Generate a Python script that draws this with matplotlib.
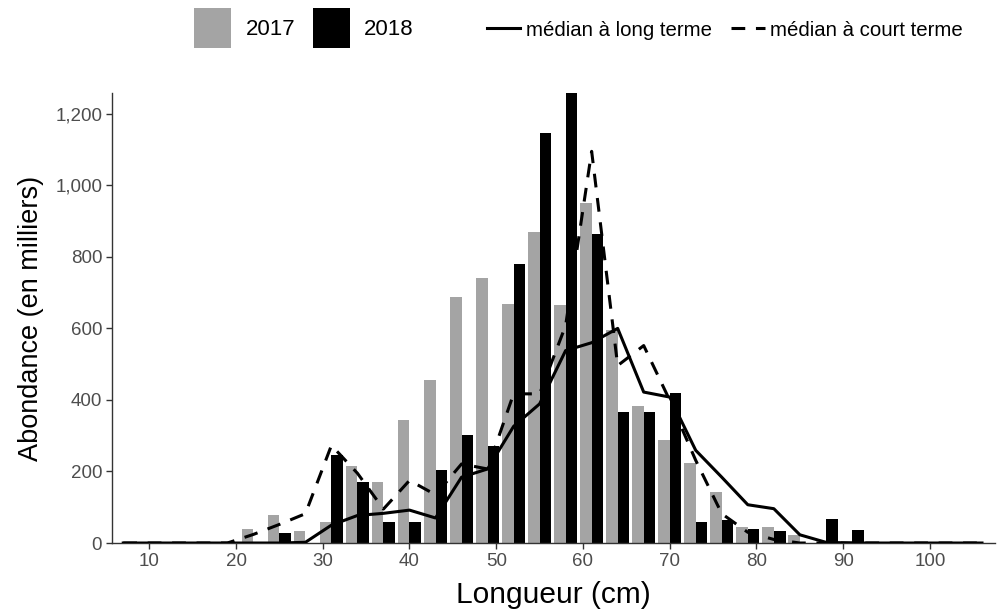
import numpy as np
import matplotlib.pyplot as plt
from matplotlib.patches import Patch
from matplotlib.lines import Line2D
from matplotlib.ticker import FuncFormatter

plt.rcParams['font.family'] = ['Liberation Sans', 'DejaVu Sans']

# 3 cm length classes (centre of each class)
length_bins = np.arange(22, 92, 3)
abund_2017 = [38, 78, 34, 60, 215, 170, 345, 455, 688, 740, 667, 870,
              665, 950, 595, 383, 288, 223, 144, 46, 44, 23, 0, 0]
abund_2018 = [0, 27, 0, 245, 170, 58, 60, 204, 303, 270, 780, 1145,
              1258, 863, 366, 366, 419, 60, 65, 38, 35, 0, 67, 37]

# medians over the whole length range
median_x = np.arange(7, 107, 3)
median_long = [0, 0, 0, 0, 0, 0, 0, 2, 50, 77, 83, 92, 70, 184, 207, 326, 389,
               538, 560, 600, 422, 408, 259, 184, 107, 96, 23, 2, 0, 0, 0, 0, 0, 0]
median_short = [0, 0, 0, 0, 0, 24, 52, 82, 273, 195, 95, 175, 135, 221, 207, 417,
                417, 608, 1095, 496, 552, 399, 231, 82, 30, 10, 0, 0, 0, 0, 0, 0, 0, 0]

gray = '#a4a4a4'
axis_col = '#333333'
dash = (0, (4.5, 3.5))

fig = plt.figure(figsize=(9.97, 6.14), dpi=100)
ax = fig.add_axes([0.1123, 0.1156, 0.8857, 0.7329])

bw = 1.35
ax.bar(length_bins - bw / 2, abund_2017, width=bw, color=gray, zorder=2)
ax.bar(length_bins + bw / 2, abund_2018, width=bw, color='black', zorder=2)

ax.plot(median_x, median_short, color='black', lw=2.2, ls=dash, zorder=3)
ax.plot(median_x, median_long, color='black', lw=2.2, zorder=4)

ax.set_xlim(5.7, 107.5)
ax.set_ylim(0, 1258)
ax.set_xticks(np.arange(10, 101, 10))
ax.set_yticks(np.arange(0, 1201, 200))
ax.yaxis.set_major_formatter(FuncFormatter(lambda v, p: f'{int(v):,}'))

for s in ['top', 'right']:
    ax.spines[s].set_visible(False)
for s in ['left', 'bottom']:
    ax.spines[s].set_color(axis_col)
    ax.spines[s].set_linewidth(1.0)
ax.tick_params(axis='both', colors=axis_col, labelcolor='#4d4d4d',
               labelsize=13.5, length=4, width=1.0, pad=3)

ax.set_xlabel('Longueur (cm)', fontsize=21.5, labelpad=8)
ax.set_ylabel('Abondance (en milliers)', fontsize=19.5, labelpad=8)

year_handles = [Patch(facecolor=gray), Patch(facecolor='black')]
leg1 = fig.legend(year_handles, ['2017', '2018'], loc='center left',
                  bbox_to_anchor=(0.1835, 0.954), ncol=2, frameon=False,
                  fontsize=16, handlelength=1.66, handleheight=2.4,
                  handletextpad=0.65, columnspacing=0.8, borderpad=0)

line_handles = [Line2D([], [], color='black', lw=2.2),
                Line2D([], [], color='black', lw=2.2, ls=dash)]
leg2 = fig.legend(line_handles, ['médian à long terme', 'médian à court terme'],
                  loc='center left', bbox_to_anchor=(0.478, 0.951), ncol=2,
                  frameon=False, fontsize=14.7, handlelength=1.65,
                  handletextpad=0.25, columnspacing=0.95, borderpad=0)

fig.savefig('out.png', dpi=100)
